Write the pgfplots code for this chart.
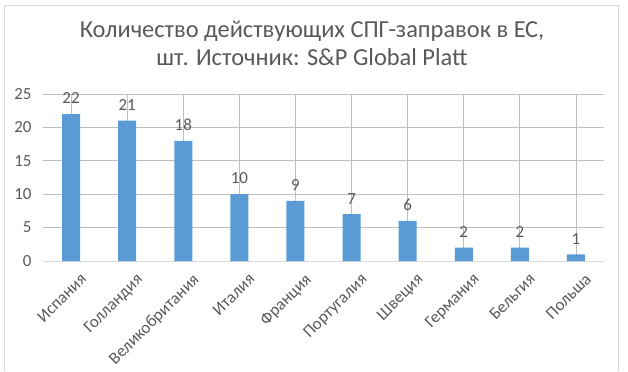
\documentclass[border=0pt]{standalone}
\usepackage{pgfplots}
\pgfplotsset{compat=1.18}
\usepackage{fontspec}
\setmainfont{Carlito}
\definecolor{barblue}{HTML}{5B9BD5}
\definecolor{txt}{HTML}{595959}
\definecolor{grid}{HTML}{D9D9D9}
\begin{document}
\begin{tikzpicture}[x=1bp,y=1bp]
\useasboundingbox (0,0) rectangle (628,371);
\draw[grid] (4,0) -- (4,366) -- (618,366) -- (618,0);
\node[txt, font=\fontsize{24.5}{29}\selectfont, anchor=base] at (312,334) {Количество действующих СПГ-заправок в ЕС,};
\node[txt, font=\fontsize{24.5}{29}\selectfont, anchor=base] at (312,306) {шт. Источник: S\&P Global Platt};
\begin{axis}[
  at={(43bp,110bp)}, anchor=south west,
  scale only axis, width=561bp, height=167bp,
  ymin=0, ymax=25, ytick={0,5,...,25},
  xmin=-0.5, xmax=9.5,
  xtick=data,
  xticklabels={Испания,Голландия,Великобритания,Италия,Франция,Португалия,Швеция,Германия,Бельгия,Польша},
  x tick label style={rotate=45, anchor=north east, inner sep=0pt, xshift=-2bp, yshift=-14bp, font=\fontsize{17}{19}\selectfont},
  ymajorgrids, major grid style={grid, line width=0.75pt},
  axis line style={draw=none},
  axis x line*=bottom,
  x axis line style={draw=grid, line width=0.75pt},
  major tick length=0pt,
  tick label style={txt},
  yticklabel style={xshift=-8bp, font=\fontsize{17}{19}\selectfont},
  /pgf/number format/assume math mode=true,
  ybar, bar width=18bp,
  nodes near coords,
  every node near coord/.append style={txt, font=\fontsize{17}{19}\selectfont, inner sep=0pt, yshift=10bp},
]
\addplot[fill=barblue, draw=none] coordinates {(0,22) (1,21) (2,18) (3,10) (4,9) (5,7) (6,6) (7,2) (8,2) (9,1)};
\end{axis}
\end{tikzpicture}
\end{document}
